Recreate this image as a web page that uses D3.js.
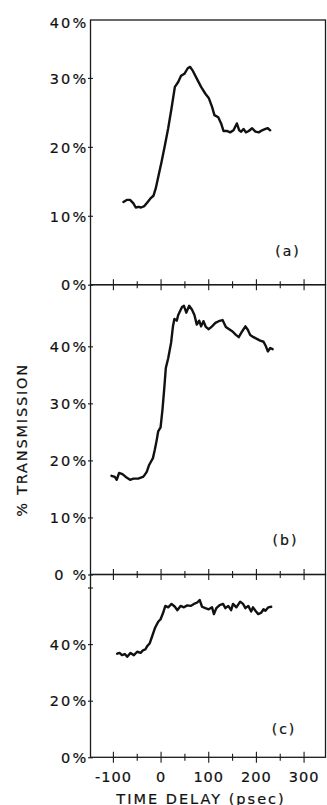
<!DOCTYPE html>
<html>
<head>
<meta charset="utf-8">
<script src="https://cdn.jsdelivr.net/npm/d3@7"></script>
<style>
  html, body { margin: 0; padding: 0; background: #fff; }
  text { font-family: "DejaVu Sans", sans-serif; fill: #111; stroke: #111; stroke-width: 0.2px; }
</style>
</head>
<body>
<svg id="chart" width="327" height="805"></svg>
<script>
// panel (a)
const delayA = [-78,-71,-64,-57,-52,-46,-41,-34,-27,-20,-15,-10,-4,2,9,16,23,30,37,43,50,57,62,67,76,85,94,101,108,113,121,127,132,139,146,153,160,165,169,174,179,185,192,199,206,213,220,225,230];
const transA = [12.0,12.3,12.3,11.8,11.2,11.3,11.2,11.4,12.0,12.6,12.9,14.0,15.9,17.8,20.2,22.7,25.6,28.7,29.4,30.3,30.6,31.4,31.6,31.1,29.9,28.7,27.7,27.1,25.8,24.6,24.3,23.4,22.3,22.3,22.1,22.4,23.4,22.4,22.2,22.6,22.1,22.3,22.7,22.2,22.1,22.4,22.6,22.7,22.4];

// panel (b)
const delayB = [-103,-96,-92,-87,-80,-73,-64,-57,-47,-37,-33,-29,-24,-16,-12,-8,-5,0,4,8,11,16,22,26,29,34,37,45,49,54,60,66,71,76,81,85,90,95,101,108,115,122,130,137,144,151,158,164,171,178,183,188,195,202,209,216,221,225,230,235];
const transB = [17.3,17.1,16.6,17.8,17.6,17.1,16.6,16.8,16.8,17.1,17.5,18.0,19.2,20.4,21.9,23.6,25.1,25.8,28.9,32.9,36.2,37.9,40.6,43.5,44.8,44.5,45.5,46.9,47.1,45.9,47.1,46.4,45.5,43.8,44.5,43.5,44.4,43.4,43.0,43.5,44.1,44.4,44.6,43.4,43.0,42.6,42.0,41.6,42.6,43.5,42.9,42.0,41.6,41.3,41.0,40.8,40.0,39.1,39.7,39.5];

// panel (c)
const delayC = [-91,-86,-81,-75,-70,-63,-56,-49,-42,-37,-32,-28,-23,-18,-12,-5,0,5,10,16,23,30,35,42,49,56,63,70,77,82,87,94,101,108,112,117,124,131,136,142,148,152,159,167,173,178,184,190,194,199,205,211,216,220,226,232];
const transC = [36.6,36.9,36.1,36.5,35.5,36.9,36.1,37.3,36.9,37.8,38.1,39.3,40.2,42.6,45.6,47.9,48.8,50.9,53.5,53.0,54.2,53.2,52.0,53.5,53.0,53.7,53.5,54.2,54.7,55.6,53.2,52.7,52.3,53.0,50.6,52.7,53.8,54.2,52.7,53.5,52.0,54.2,53.0,55.0,54.2,52.7,53.5,51.5,53.0,51.8,50.6,51.1,52.3,51.8,53.0,53.2];

const xMajor = [-100, 0, 100, 200, 300];
const xMinor = [-50, 50, 150, 250];
const yTicksA = [0, 10, 20, 30, 40];
const yTicksB = [0, 10, 20, 30, 40];
const yTicksC = [0, 20, 40, 60];
const yLabelsC = [0, 20, 40];

const svg = d3.select('#chart');
const left = 90.5, right = 325.5;
const ink = '#1a1a1a';

const x = d3.scaleLinear().domain([-147, 346]).range([left, right]);

const panels = [
  { delay: delayA, trans: transA, top: 20, bottom: 284.7, max: 38.4, ticks: yTicksA, labels: yTicksA,
    zero: '0%', tag: '(a)', tagX: 288, tagY: 256 },
  { delay: delayB, trans: transB, top: 284.7, bottom: 574.5, max: 50.8, ticks: yTicksB, labels: yTicksB,
    zero: '0 %', tag: '(b)', tagX: 285.5, tagY: 545 },
  { delay: delayC, trans: transC, top: 574.5, bottom: 757.3, max: 64.6, ticks: yTicksC, labels: yLabelsC,
    zero: '0%', tag: '(c)', tagX: 284, tagY: 734 }
];

function clean(g) {
  g.select('.domain').remove();
  g.selectAll('line').attr('stroke', ink).attr('stroke-width', 1.1);
}

panels.forEach(function (p) {
  const y = d3.scaleLinear().domain([0, p.max]).range([p.bottom, p.top]).clamp(true);
  const g = svg.append('g');

  // frame
  g.append('rect')
    .attr('x', left).attr('y', p.top)
    .attr('width', right - left).attr('height', p.bottom - p.top)
    .attr('fill', 'none').attr('stroke', ink).attr('stroke-width', 1.3);

  // x tick crosses along the bottom edge
  [[xMajor, 5.5], [xMinor, 3.5]].forEach(function (t) {
    g.append('g').attr('transform', 'translate(0,' + p.bottom + ')')
      .call(d3.axisBottom(x).tickValues(t[0]).tickSize(t[1]).tickFormat(''))
      .call(clean);
    g.append('g').attr('transform', 'translate(0,' + p.bottom + ')')
      .call(d3.axisTop(x).tickValues(t[0]).tickSize(t[1]).tickFormat(''))
      .call(clean);
  });

  // y tick crosses
  const yt = p.ticks.filter(function (d) { return d < p.max; });
  g.append('g').attr('transform', 'translate(' + left + ',0)')
    .call(d3.axisLeft(y).tickValues(yt).tickSize(2.5).tickFormat(''))
    .call(clean);
  g.append('g').attr('transform', 'translate(' + left + ',0)')
    .call(d3.axisRight(y).tickValues(yt).tickSize(2.5).tickFormat(''))
    .call(clean);

  // y labels
  const yl = g.append('g').attr('transform', 'translate(' + left + ',0)')
    .call(d3.axisLeft(y).tickValues(p.labels).tickSize(0).tickPadding(2)
      .tickFormat(function (d) { return d === 0 ? p.zero : d + '%'; }));
  yl.select('.domain').remove();
  yl.selectAll('text')
    .attr('font-family', '"DejaVu Sans", sans-serif')
    .style('font-size', '14.5px').style('letter-spacing', '2.2px')
    .attr('fill', '#111')
    .attr('dy', function (d) { return d >= p.max ? '0.55em' : '0.36em'; });

  // trace
  const line = d3.line()
    .x(function (d, i) { return x(p.delay[i]); })
    .y(function (d) { return y(d); });
  g.append('path')
    .datum(p.trans)
    .attr('d', line)
    .attr('fill', 'none')
    .attr('stroke', '#111')
    .attr('stroke-width', 2.4)
    .attr('stroke-linejoin', 'round')
    .attr('stroke-linecap', 'round');

  g.append('text')
    .attr('x', p.tagX).attr('y', p.tagY)
    .attr('text-anchor', 'middle')
    .style('font-size', '14px').style('letter-spacing', '2px')
    .text(p.tag);
});

// x labels under the last panel
const last = panels[panels.length - 1];
const xl = svg.append('g').attr('transform', 'translate(0,' + last.bottom + ')')
  .call(d3.axisBottom(x).tickValues(xMajor).tickSize(0)
    .tickFormat(function (d) { return String(d); }));
xl.select('.domain').remove();
xl.selectAll('text')
  .attr('font-family', '"DejaVu Sans", sans-serif')
  .style('font-size', '14.5px').style('letter-spacing', '1px')
  .attr('fill', '#111')
  .attr('y', 24.5).attr('dy', 0);

svg.append('text')
  .attr('x', 201).attr('y', 803.5)
  .attr('text-anchor', 'middle')
  .style('font-size', '14.5px').style('letter-spacing', '2px')
  .text('TIME DELAY (psec)');

svg.append('text')
  .attr('transform', 'translate(27,440) rotate(-90)')
  .attr('text-anchor', 'middle')
  .style('font-size', '14.5px').style('letter-spacing', '1.8px')
  .text('% TRANSMISSION');
</script>
</body>
</html>
